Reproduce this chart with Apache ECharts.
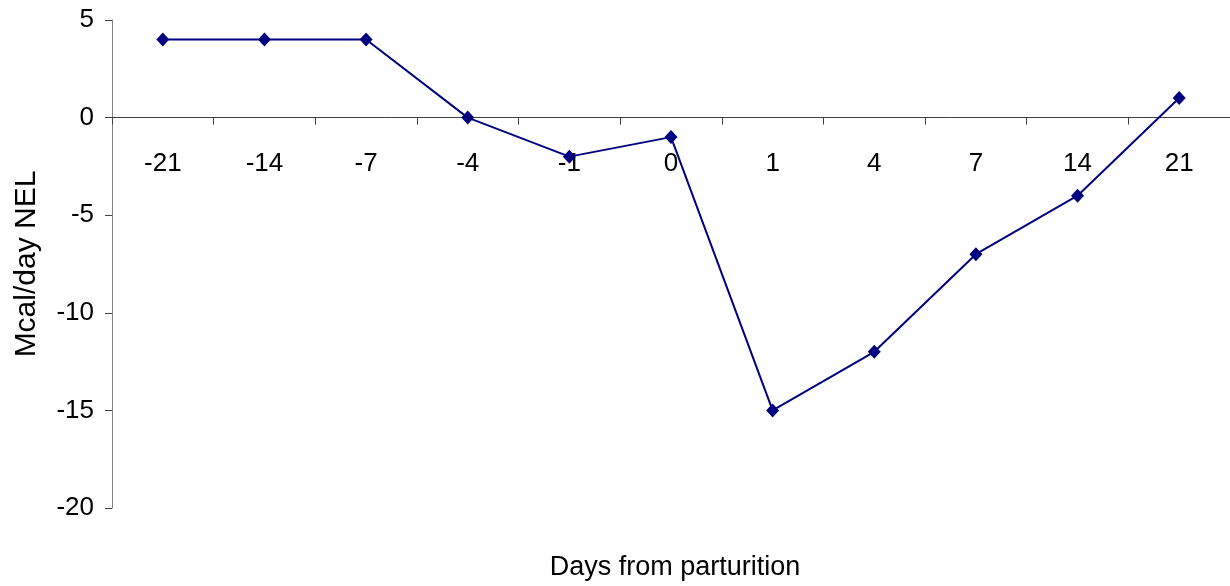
<!DOCTYPE html>
<html>
<head>
<meta charset="utf-8">
<script src="https://cdn.jsdelivr.net/npm/echarts@6/dist/echarts.min.js"></script>
<style>
  html, body { margin: 0; padding: 0; background: #ffffff; }
  #chart { width: 1230px; height: 586px; }
</style>
</head>
<body>
<div id="chart"></div>
<script>
// Days relative to parturition
const days = ['-21', '-14', '-7', '-4', '-1', '0', '1', '4', '7', '14', '21'];
// Energy balance, Mcal/day NEL
const energyBalance = [4, 4, 4, 0, -2, -1, -15, -12, -7, -4, 1];
// Value axis range
const yMin = -20;
const yMax = 5;
const yStep = 5;

const font = '"Liberation Sans", Arial, sans-serif';
const gridTop = 20;
const gridBottom = 78;
const plotHeight = 586 - gridTop - gridBottom;
// Category axis sits at y = 0: shift it up from the grid's bottom edge
const zeroOffset = -plotHeight * (0 - yMin) / (yMax - yMin);

const chart = echarts.init(document.getElementById('chart'), null, { renderer: 'canvas' });

chart.setOption({
  animation: false,
  backgroundColor: '#ffffff',
  grid: { left: 112, right: 0, top: gridTop, bottom: gridBottom, containLabel: false, outerBoundsMode: 'none' },
  title: {
    text: 'Days from parturition',
    left: 670,
    top: 549,
    textAlign: 'center',
    textStyle: { fontFamily: font, fontSize: 27, fontWeight: 'normal', color: '#000' }
  },
  xAxis: {
    type: 'category',
    data: days,
    boundaryGap: true,
    offset: zeroOffset,
    axisLine: { onZero: false, lineStyle: { color: '#404040', width: 1 } },
    axisTick: { show: true, alignWithLabel: false, length: 7, lineStyle: { color: '#404040' } },
    axisLabel: { margin: 33, fontFamily: font, fontSize: 26, color: '#000' },
    splitLine: { show: false }
  },
  yAxis: {
    type: 'value',
    min: yMin,
    max: yMax,
    interval: yStep,
    name: 'Mcal/day NEL',
    nameLocation: 'middle',
    nameGap: 70,
    nameRotate: 90,
    nameTextStyle: { fontFamily: font, fontSize: 30, color: '#000' },
    axisLine: { show: true, lineStyle: { color: '#808080', width: 1 } },
    axisTick: { show: true, length: 7, lineStyle: { color: '#404040' } },
    axisLabel: { margin: 18, fontFamily: font, fontSize: 26, color: '#000' },
    splitLine: { show: false }
  },
  series: [{
    type: 'line',
    data: energyBalance,
    symbol: 'diamond',
    symbolSize: [13, 14],
    lineStyle: { color: '#000080', width: 2 },
    itemStyle: { color: '#000080' }
  }]
});
</script>
</body>
</html>
